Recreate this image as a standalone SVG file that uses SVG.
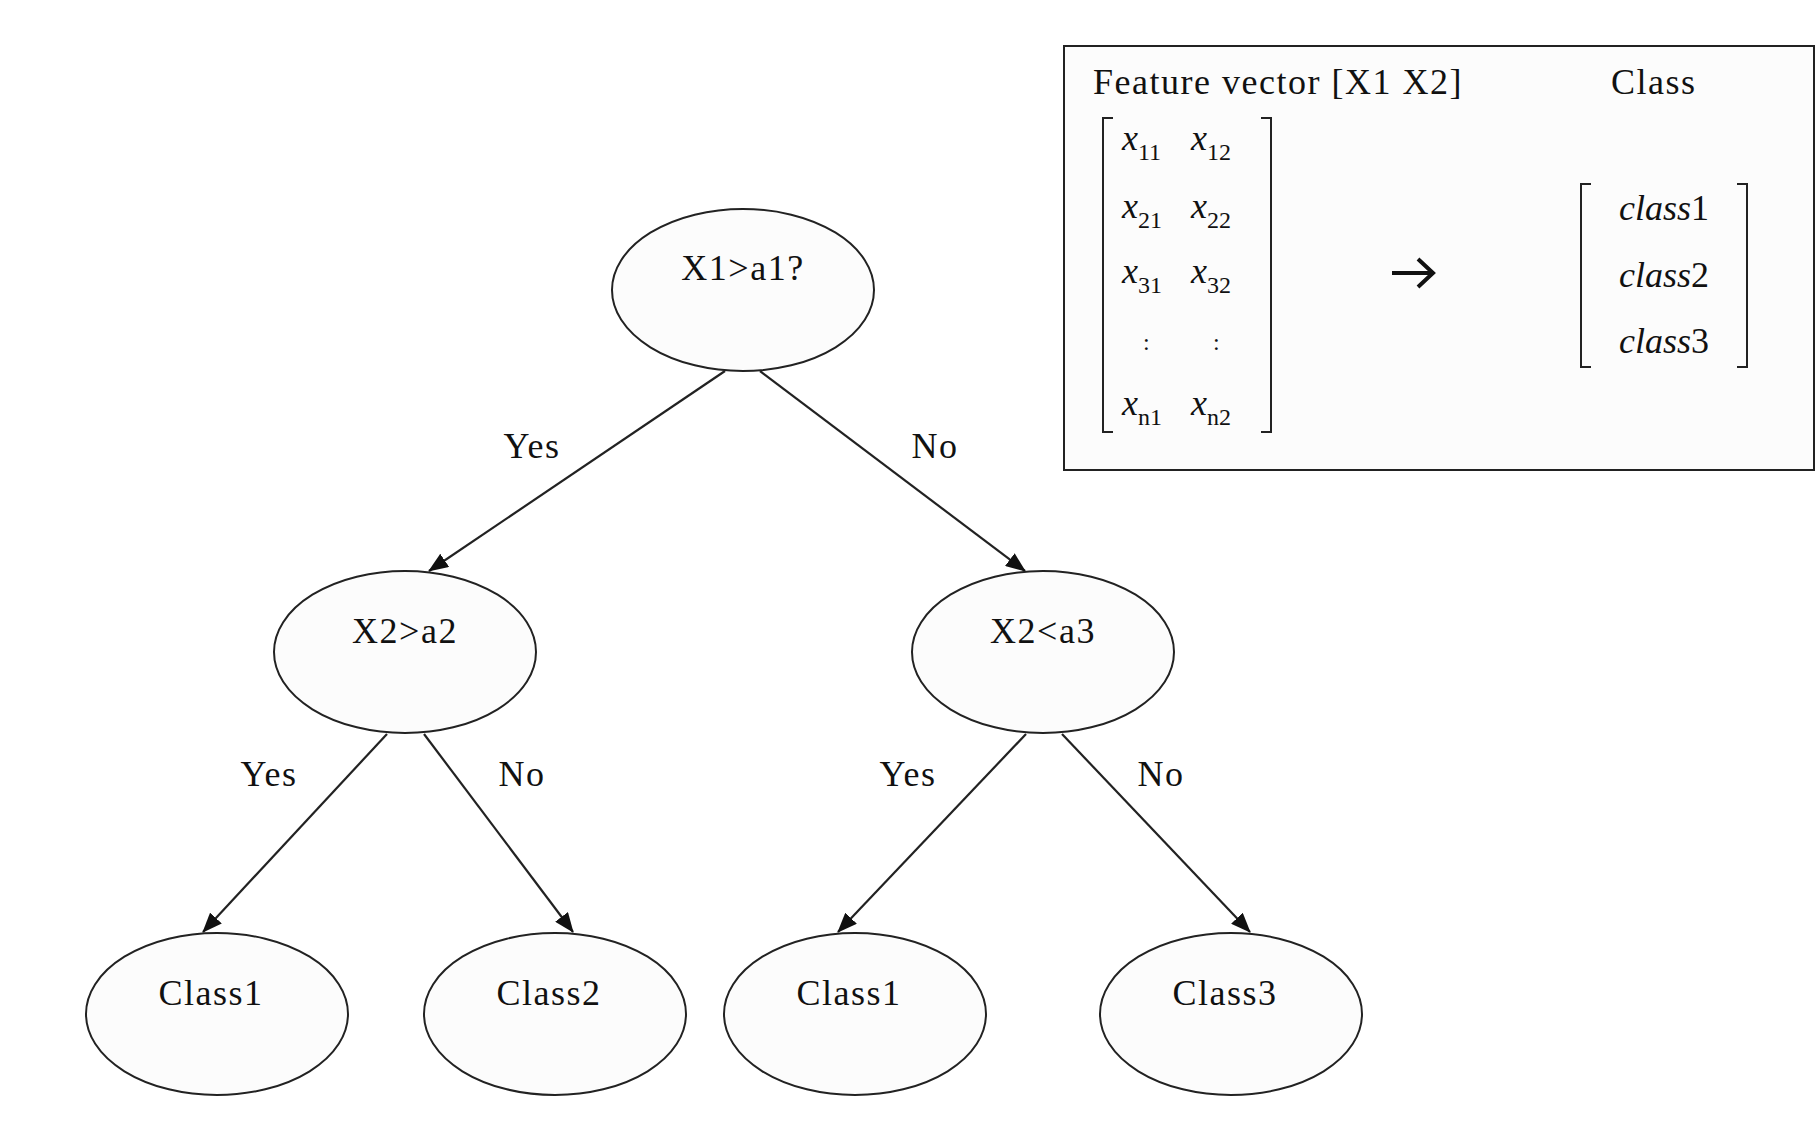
<svg xmlns="http://www.w3.org/2000/svg" width="1820" height="1123" viewBox="0 0 1820 1123">
<style>
.n{fill:#fcfcfc;stroke:#222;stroke-width:2}
.t{font-family:"Liberation Serif",serif;font-size:36px;fill:#111;text-anchor:middle;letter-spacing:1.5px}
.e{stroke:#222;stroke-width:2.2;fill:none;marker-end:url(#a)}
.m{font-family:"Liberation Serif",serif;font-size:36px;font-style:italic;fill:#111}
.s{font-family:"Liberation Serif",serif;font-size:24px;fill:#111}
.b{stroke:#222;stroke-width:2;fill:none}
</style>
<defs><marker id="a" markerWidth="20" markerHeight="16" refX="19" refY="8" orient="auto" markerUnits="userSpaceOnUse"><path d="M0,0 L20,8 L0,16 z" fill="#111"/></marker></defs>
<rect width="1820" height="1123" fill="#fff"/>
<g id="connectors">
<line class="e" x1="725" y1="371" x2="429" y2="571"/>
<line class="e" x1="760" y1="371" x2="1025" y2="571"/>
<line class="e" x1="387" y1="734" x2="203" y2="932"/>
<line class="e" x1="424" y1="734" x2="573" y2="932"/>
<line class="e" x1="1026" y1="734" x2="838" y2="932"/>
<line class="e" x1="1062" y1="734" x2="1250" y2="932"/>
<text class="t" x="532" y="458">Yes</text>
<text class="t" x="935" y="458">No</text>
<text class="t" x="269" y="786">Yes</text>
<text class="t" x="522" y="786">No</text>
<text class="t" x="908" y="786">Yes</text>
<text class="t" x="1161" y="786">No</text>
</g>
<g id="root"><ellipse class="n" cx="743" cy="290" rx="131" ry="81"/><text class="t" x="743" y="280">X1&gt;a1?</text></g>
<g id="n2"><ellipse class="n" cx="405" cy="652" rx="131" ry="81"/><text class="t" x="405" y="643">X2&gt;a2</text></g>
<g id="n3"><ellipse class="n" cx="1043" cy="652" rx="131" ry="81"/><text class="t" x="1043" y="643">X2&lt;a3</text></g>
<g id="l1"><ellipse class="n" cx="217" cy="1014" rx="131" ry="81"/><text class="t" x="211" y="1005">Class1</text></g>
<g id="l2"><ellipse class="n" cx="555" cy="1014" rx="131" ry="81"/><text class="t" x="549" y="1005">Class2</text></g>
<g id="l3"><ellipse class="n" cx="855" cy="1014" rx="131" ry="81"/><text class="t" x="849" y="1005">Class1</text></g>
<g id="l4"><ellipse class="n" cx="1231" cy="1014" rx="131" ry="81"/><text class="t" x="1225" y="1005">Class3</text></g>
<g id="box">
<rect x="1064" y="46" width="750" height="424" fill="#fcfcfc" stroke="#222" stroke-width="2"/>
<text class="t" x="1093" y="94" style="text-anchor:start">Feature vector [X1 X2]</text>
<text class="t" x="1611" y="94" style="text-anchor:start">Class</text>
<path class="b" d="M1113,118 H1103 V432 H1113 M1261,118 H1271 V432 H1261"/>
<text class="m" x="1122" y="150">x<tspan class="s" dy="10" style="font-style:normal">11</tspan></text>
<text class="m" x="1191" y="150">x<tspan class="s" dy="10" style="font-style:normal">12</tspan></text>
<text class="m" x="1122" y="218">x<tspan class="s" dy="10" style="font-style:normal">21</tspan></text>
<text class="m" x="1191" y="218">x<tspan class="s" dy="10" style="font-style:normal">22</tspan></text>
<text class="m" x="1122" y="283">x<tspan class="s" dy="10" style="font-style:normal">31</tspan></text>
<text class="m" x="1191" y="283">x<tspan class="s" dy="10" style="font-style:normal">32</tspan></text>
<text class="s" x="1143" y="350">:</text>
<text class="s" x="1213" y="350">:</text>
<text class="m" x="1122" y="415">x<tspan class="s" dy="10" style="font-style:normal">n1</tspan></text>
<text class="m" x="1191" y="415">x<tspan class="s" dy="10" style="font-style:normal">n2</tspan></text>
<path d="M1392,273 H1432 M1418,259 L1433,273 L1418,287" stroke="#111" stroke-width="4" fill="none"/>
<path class="b" d="M1591,184 H1581 V367 H1591 M1737,184 H1747 V367 H1737"/>
<text class="m" x="1664" y="220" text-anchor="middle">class<tspan style="font-style:normal">1</tspan></text>
<text class="m" x="1664" y="287" text-anchor="middle">class<tspan style="font-style:normal">2</tspan></text>
<text class="m" x="1664" y="353" text-anchor="middle">class<tspan style="font-style:normal">3</tspan></text>
</g>
</svg>
